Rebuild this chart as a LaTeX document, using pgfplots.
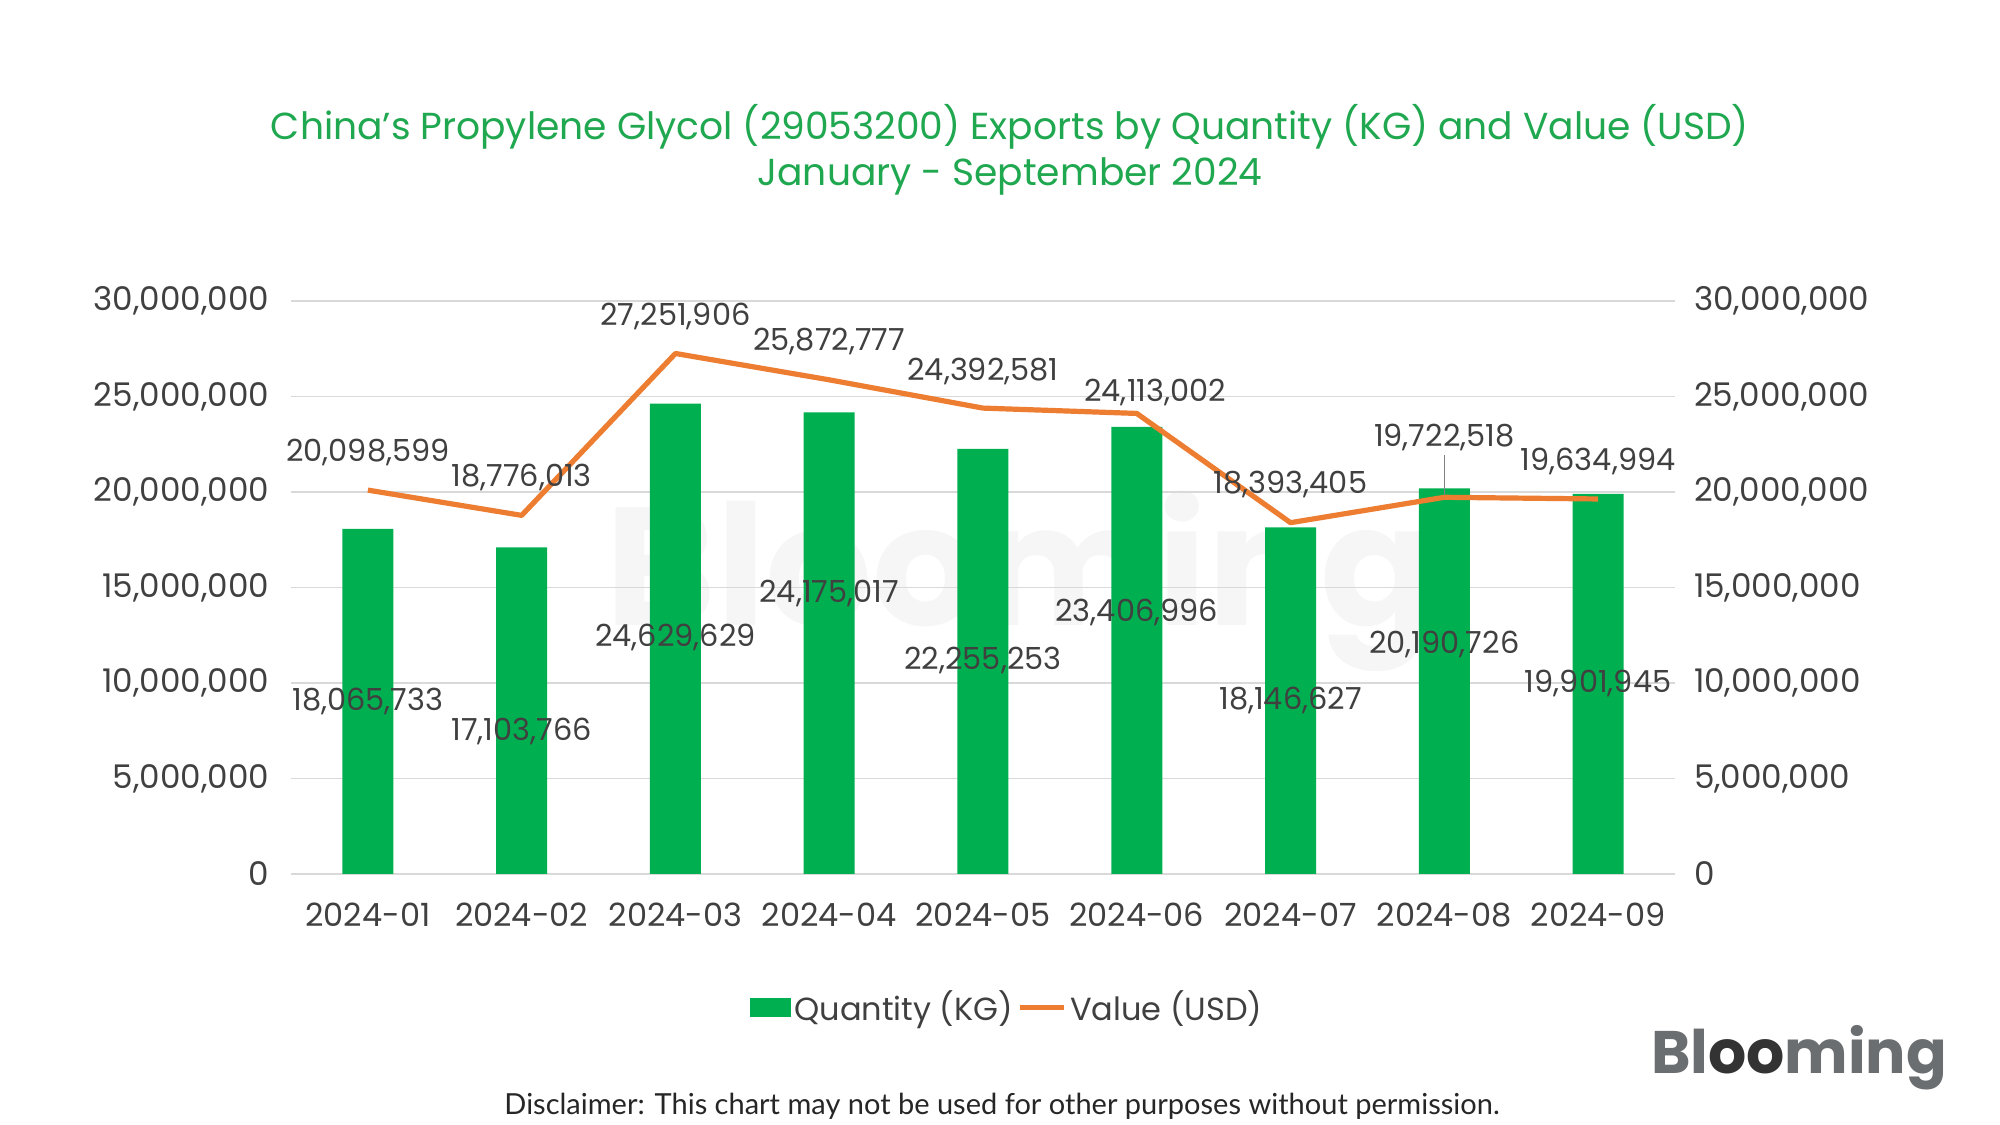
\documentclass[border=0pt]{standalone}
\usepackage{fontspec}
\setmainfont{Poppins}
\newfontfamily\discfont{Lato}
\usepackage{pgfplots}
\pgfplotsset{compat=1.18}
\definecolor{bargreen}{HTML}{00B050}
\definecolor{titlegreen}{HTML}{1FA84F}
\definecolor{lineorange}{HTML}{ED7D31}
\definecolor{txt}{HTML}{404040}
\definecolor{gridc}{HTML}{D9D9D9}
\definecolor{logogray}{HTML}{6B6E70}
\begin{document}
\begin{tikzpicture}
\fill[white] (0,0) rectangle (1000bp,562.5bp);
\path[use as bounding box] (0,0) rectangle (1000bp,562.5bp);
% watermark
\node[text=gray, opacity=0.07, font=\fontsize{84bp}{90bp}\selectfont\bfseries] at (510bp,272bp) {Blooming};
% title
\node[text=titlegreen, font=\fontsize{18.8bp}{23bp}\selectfont, align=center] at (505bp,487.5bp) {China{\char39}s Propylene Glycol (29053200) Exports by Quantity (KG) and Value (USD)\\January - September 2024};
\begin{axis}[
  at={(145.5bp,125.5bp)}, anchor=south west,
  scale only axis, width=692bp, height=286.5bp,
  xmin=-0.5, xmax=8.5, ymin=0, ymax=30000000,
  axis y line*=left, axis x line*=bottom,
  axis line style={draw=none},
  xtick={0,...,8},
  xticklabels={2024-01,2024-02,2024-03,2024-04,2024-05,2024-06,2024-07,2024-08,2024-09},
  ytick={0,5000000,10000000,15000000,20000000,25000000,30000000},
  ymajorgrids, grid style={gridc, line width=0.8bp},
  major tick length=0pt,
  scaled y ticks=false,
  /pgf/number format/assume math mode=true,
  yticklabel={\pgfmathprintnumber[fixed,1000 sep={,}]{\tick}},
  ticklabel style={font=\fontsize{16.3bp}{19bp}\selectfont, text=txt},
  xticklabel style={yshift=-11bp, font=\fontsize{16bp}{19bp}\selectfont},
  yticklabel style={xshift=-7.5bp},
  clip=false,
]
\draw[gridc, line width=1bp] (axis cs:-0.5,0) -- (axis cs:8.5,0);
\addplot[ybar, bar width=25.5bp, fill=bargreen, draw=none] coordinates {
(0,18065733) (1,17103766) (2,24629629) (3,24175017) (4,22255253) (5,23406996) (6,18146627) (7,20190726) (8,19901945)};
\end{axis}
\begin{axis}[
  at={(145.5bp,125.5bp)}, anchor=south west,
  scale only axis, width=692bp, height=286.5bp,
  xmin=-0.5, xmax=8.5, ymin=0, ymax=30000000,
  axis y line*=right, axis x line=none,
  axis line style={draw=none},
  ytick={0,5000000,10000000,15000000,20000000,25000000,30000000},
  major tick length=0pt,
  scaled y ticks=false,
  /pgf/number format/assume math mode=true,
  yticklabel={\pgfmathprintnumber[fixed,1000 sep={,}]{\tick}},
  ticklabel style={font=\fontsize{16.3bp}{19bp}\selectfont, text=txt},
  yticklabel style={xshift=6bp},
  clip=false,
  legend style={at={(0.518,-0.233)}, anchor=center, draw=none, fill=none, legend columns=2,
    font=\fontsize{16bp}{19bp}\selectfont, text=txt,
    /tikz/every even column/.append style={column sep=0bp},
    /pgfplots/legend image code/.code={\draw[##1] (0bp,0bp) -- (22bp,0bp);}},
  legend cell align=left,
]
\addlegendimage{legend image code/.code={\fill[bargreen] (-1bp,-4.5bp) rectangle (19bp,4.5bp);}}
\addlegendentry{Quantity (KG)}
\addplot[lineorange, line width=2.6bp, line join=round] coordinates {
(0,20098599) (1,18776013) (2,27251906) (3,25872777) (4,24392581) (5,24113002) (6,18393405) (7,19722518) (8,19634994)};
\addlegendentry{Value (USD)}
\begin{scope}[every node/.style={font=\fontsize{15.2bp}{17bp}\selectfont, text=txt}]
\node at (axis cs:0,22050000) {20,098,599};
\node at (axis cs:1,20780000) {18,776,013};
\node at (axis cs:2,29200000) {27,251,906};
\node at (axis cs:3,27860000) {25,872,777};
\node at (axis cs:4,26330000) {24,392,581};
\node at (axis cs:5.12,25190000) {24,113,002};
\node at (axis cs:6,20380000) {18,393,405};
\node at (axis cs:7,22850000) {19,722,518};
\node at (axis cs:8,21580000) {19,634,994};
\node at (axis cs:0,9020000) {18,065,733};
\node at (axis cs:1,7480000) {17,103,766};
\node at (axis cs:2,12360000) {24,629,629};
\node at (axis cs:3,14700000) {24,175,017};
\node at (axis cs:4,11160000) {22,255,253};
\node at (axis cs:5,13700000) {23,406,996};
\node at (axis cs:6,9090000) {18,146,627};
\node at (axis cs:7,12030000) {20,190,726};
\node at (axis cs:8,9960000) {19,901,945};
\end{scope}
\draw[gray, line width=0.6bp] (axis cs:7,21950000) -- (axis cs:7,19850000);
\end{axis}
% disclaimer
\node[text=black!85, font=\discfont\fontsize{14.5bp}{16bp}\selectfont] at (501bp,9.5bp) {Disclaimer: This chart may not be used for other purposes without permission.};
% logo
\node[text=logogray, font=\fontsize{30bp}{34bp}\selectfont\bfseries, anchor=west] at (822bp,33.5bp) {Bl\textcolor{black!80}{oo}ming};
\end{tikzpicture}
\end{document}
